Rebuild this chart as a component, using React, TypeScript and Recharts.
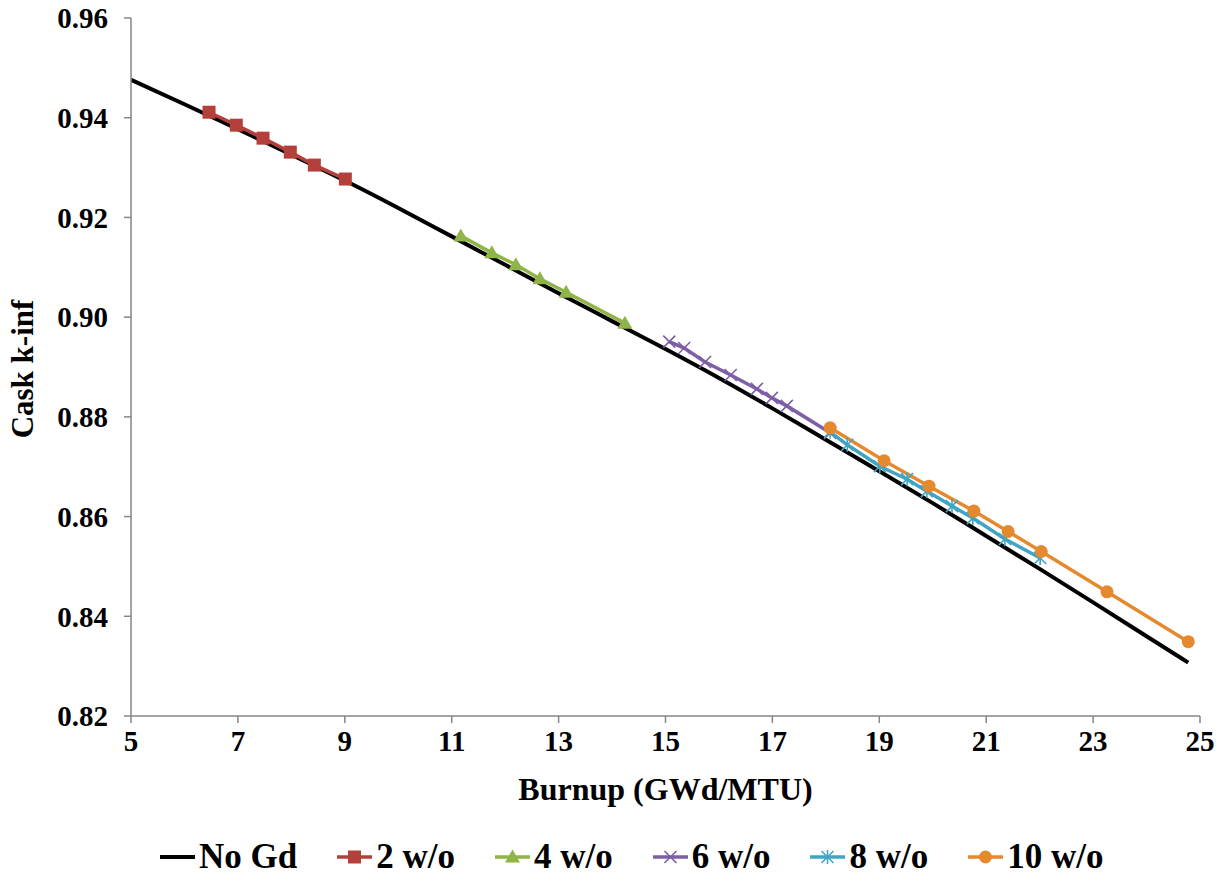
import React from 'react';
import { LineChart, Line, XAxis, YAxis, Legend, Label } from 'recharts';

// Burnup (GWd/MTU) and cask k-inf for each gadolinia loading
const burnupNoGd = [5, 6, 7, 8, 9, 10, 11, 12, 13, 14, 15, 16, 17, 18, 19, 20, 21, 22, 23, 24, 24.78];
const kinfNoGd = [0.9476, 0.9427, 0.9377, 0.9326, 0.9274, 0.9219, 0.9162, 0.9105, 0.9048, 0.8992, 0.8936, 0.8878, 0.8817, 0.8754, 0.8691, 0.8627, 0.8561, 0.8495, 0.8428, 0.836, 0.8307];

const burnupGd2 = [6.46, 6.97, 7.47, 7.98, 8.43, 9.01];
const kinfGd2 = [0.9411, 0.9385, 0.9359, 0.9331, 0.9305, 0.9277];

const burnupGd4 = [11.17, 11.75, 12.2, 12.65, 13.14, 14.24];
const kinfGd4 = [0.9163, 0.9129, 0.9105, 0.9077, 0.905, 0.8988];

const burnupGd6 = [15.07, 15.35, 15.74, 16.22, 16.71, 16.99, 17.27, 18.08];
const kinfGd6 = [0.8951, 0.8938, 0.891, 0.8884, 0.8856, 0.8838, 0.8822, 0.8768];

const burnupGd8 = [18.08, 18.4, 19.01, 19.52, 19.89, 20.36, 20.75, 21.35, 22.01];
const kinfGd8 = [0.877, 0.8744, 0.8701, 0.8675, 0.8651, 0.8621, 0.8597, 0.8555, 0.8517];

const burnupGd10 = [18.08, 19.09, 19.93, 20.77, 21.41, 22.03, 23.26, 24.78];
const kinfGd10 = [0.8778, 0.8712, 0.8661, 0.8611, 0.857, 0.853, 0.8449, 0.8349];

const xTicks = [5, 7, 9, 11, 13, 15, 17, 19, 21, 23, 25];
const yTicks = [0.82, 0.84, 0.86, 0.88, 0.9, 0.92, 0.94, 0.96];

const toRows = (xs: number[], ys: number[]) => xs.map((x, i) => ({ x, y: ys[i] }));

type MarkerKind = 'none' | 'square' | 'triangle' | 'cross' | 'star' | 'circle';

const FONT = '"Liberation Serif", "Times New Roman", serif';
const AXIS_COLOR = '#868686';

function drawMarker(kind: MarkerKind, cx: number, cy: number, color: string, key?: string | number) {
  switch (kind) {
    case 'square':
      return <rect key={key} x={cx - 6.5} y={cy - 6.5} width={13} height={13} fill={color} />;
    case 'triangle':
      return (
        <polygon key={key} points={`${cx},${cy - 7.5} ${cx + 7.5},${cy + 5.5} ${cx - 7.5},${cy + 5.5}`} fill={color} />
      );
    case 'cross':
      return (
        <g key={key} stroke={color} strokeWidth={1.6}>
          <line x1={cx - 6} y1={cy - 6} x2={cx + 6} y2={cy + 6} />
          <line x1={cx - 6} y1={cy + 6} x2={cx + 6} y2={cy - 6} />
        </g>
      );
    case 'star':
      return (
        <g key={key} stroke={color} strokeWidth={1.6}>
          <line x1={cx - 6} y1={cy - 6} x2={cx + 6} y2={cy + 6} />
          <line x1={cx - 6} y1={cy + 6} x2={cx + 6} y2={cy - 6} />
          <line x1={cx} y1={cy - 7} x2={cx} y2={cy + 7} />
        </g>
      );
    case 'circle':
      return <circle key={key} cx={cx} cy={cy} r={6.5} fill={color} />;
    default:
      return <g key={key} />;
  }
}

const series = [
  { name: 'No Gd', xs: burnupNoGd, ys: kinfNoGd, color: '#000000', marker: 'none' as MarkerKind, width: 4 },
  { name: '2 w/o', xs: burnupGd2, ys: kinfGd2, color: '#B3403B', marker: 'square' as MarkerKind, width: 3.5 },
  { name: '4 w/o', xs: burnupGd4, ys: kinfGd4, color: '#8FB448', marker: 'triangle' as MarkerKind, width: 3.5 },
  { name: '6 w/o', xs: burnupGd6, ys: kinfGd6, color: '#7D5FA6', marker: 'cross' as MarkerKind, width: 3.5 },
  { name: '8 w/o', xs: burnupGd8, ys: kinfGd8, color: '#40A5C4', marker: 'star' as MarkerKind, width: 3.5 },
  { name: '10 w/o', xs: burnupGd10, ys: kinfGd10, color: '#E5892F', marker: 'circle' as MarkerKind, width: 3.5 },
];

const LegendContent = () => (
  <div style={{ display: 'flex', alignItems: 'center', gap: 40, fontFamily: FONT, fontWeight: 'bold', fontSize: 35, color: '#000' }}>
    {series.map((s) => (
      <div key={s.name} style={{ display: 'flex', alignItems: 'center', gap: 4 }}>
        <svg width={35} height={20}>
          <line x1={0} y1={10} x2={35} y2={10} stroke={s.color} strokeWidth={s.width} />
          {drawMarker(s.marker, 17.5, 10, s.color)}
        </svg>
        <span style={{ lineHeight: '38px' }}>{s.name}</span>
      </div>
    ))}
  </div>
);

const YTitle = () => (
  <text
    x={22}
    y={369}
    transform="rotate(-90, 22, 369)"
    textAnchor="middle"
    dominantBaseline="central"
    fontFamily={FONT}
    fontWeight="bold"
    fontSize={31}
    fill="#000"
  >
    Cask k-inf
  </text>
);

export default function App() {
  return (
    <div style={{ position: 'absolute', left: 0, top: 0, width: 1225, height: 877, background: '#fff' }}>
      <LineChart width={1225} height={877} margin={{ top: 18, right: 25, left: 31, bottom: 101 }}>
        <XAxis
          type="number"
          dataKey="x"
          domain={[5, 25]}
          ticks={xTicks}
          allowDataOverflow
          height={60}
          stroke={AXIS_COLOR}
          strokeWidth={1.5}
          tickSize={7}
          tickMargin={7}
          tick={{ fill: '#000', fontFamily: FONT, fontWeight: 'bold', fontSize: 29 }}
        >
          <Label
            value="Burnup (GWd/MTU)"
            position="bottom"
            offset={1}
            style={{ fill: '#000', fontFamily: FONT, fontWeight: 'bold', fontSize: 32 }}
          />
        </XAxis>
        <YAxis
          type="number"
          dataKey="y"
          domain={[0.82, 0.96]}
          ticks={yTicks}
          allowDataOverflow
          width={100}
          stroke={AXIS_COLOR}
          strokeWidth={1.5}
          tickSize={7}
          tickMargin={16}
          tickFormatter={(v: number) => v.toFixed(2)}
          tick={{ fill: '#000', fontFamily: FONT, fontWeight: 'bold', fontSize: 29 }}
        >
          <Label content={<YTitle />} />
        </YAxis>
        {series.map((s) => (
          <Line
            key={s.name}
            name={s.name}
            data={toRows(s.xs, s.ys)}
            dataKey="y"
            type={s.marker === 'none' ? 'monotone' : 'linear'}
            stroke={s.color}
            strokeWidth={s.width}
            isAnimationActive={false}
            dot={(p: any) => drawMarker(s.marker, p.cx, p.cy, s.color, `${s.name}-${p.index}`)}
            activeDot={false}
          />
        ))}
        <Legend
          layout="horizontal"
          verticalAlign="middle"
          align="center"
          content={<LegendContent />}
          wrapperStyle={{ position: 'absolute', left: 160, top: 838, width: 1050 }}
        />
      </LineChart>
    </div>
  );
}
